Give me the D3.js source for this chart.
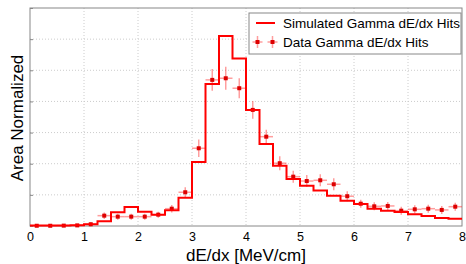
<!DOCTYPE html>
<html>
<head>
<meta charset="utf-8">
<script src="https://cdn.jsdelivr.net/npm/d3@7"></script>
<style>
  body { margin: 0; background: #fff; }
  text { font-family: "Liberation Sans", Arial, sans-serif; }
</style>
</head>
<body>
<div id="chart"></div>
<script>
// bin lower edges, width 0.25
var binEdges = d3.range(0, 8, 0.25);
var binWidth = 0.25;

// simulated histogram (area normalized)
var simValues = [0.0004, 0.0004, 0.0004, 0.0006, 0.0014, 0.0038, 0.0110, 0.0153,
  0.0115, 0.0091, 0.0126, 0.0227, 0.0514, 0.1140, 0.1526, 0.1344,
  0.0932, 0.0659, 0.0484, 0.0378, 0.0324, 0.0284, 0.0243, 0.0203,
  0.0177, 0.0139, 0.0123, 0.0112, 0.0094, 0.0080, 0.0064, 0.0059];

// data points and their errors
var dataValues = [0.0002, 0.0002, 0.0003, 0.0005, 0.0014, 0.0083, 0.0075, 0.0075,
  0.0075, 0.0091, 0.0139, 0.0271, 0.0624, 0.1173, 0.1186, 0.1106,
  0.0932, 0.0717, 0.0504, 0.0396, 0.0361, 0.0367, 0.0335, 0.0239,
  0.0179, 0.0158, 0.0161, 0.0123, 0.0134, 0.0139, 0.0129, 0.0155];
var dataErrors = [0.0003, 0.0003, 0.0003, 0.0004, 0.0016, 0.0026, 0.0024, 0.0024,
  0.0024, 0.0024, 0.0030, 0.0040, 0.0070, 0.0088, 0.0092, 0.0080,
  0.0072, 0.0056, 0.0056, 0.0048, 0.0048, 0.0048, 0.0048, 0.0040,
  0.0032, 0.0032, 0.0032, 0.0032, 0.0032, 0.0032, 0.0032, 0.0032];

var xTicks = [0, 1, 2, 3, 4, 5, 6, 7, 8];
var yTicks = [0, 0.025, 0.05, 0.075, 0.1, 0.125, 0.15, 0.175];

var fullWidth = 466, fullHeight = 264;
var margin = {top: 8, right: 4, bottom: 38, left: 30};
var width = fullWidth - margin.left - margin.right;
var height = fullHeight - margin.top - margin.bottom;

var svg = d3.select('#chart').append('svg')
  .attr('width', fullWidth)
  .attr('height', fullHeight);
var g = svg.append('g')
  .attr('transform', 'translate(' + margin.left + ',' + margin.top + ')');

var x = d3.scaleLinear().domain([0, 8]).range([0, width]);
var y = d3.scaleLinear().domain([0, 0.175]).range([height, 0]);

// grid
g.append('g').selectAll('line.vgrid')
    .data(xTicks.slice(1, -1))
  .enter().append('line')
    .attr('x1', function(d) { return x(d); })
    .attr('x2', function(d) { return x(d); })
    .attr('y1', 0).attr('y2', height)
    .attr('stroke', '#cccccc')
    .attr('stroke-dasharray', '1,2');
g.append('g').selectAll('line.hgrid')
    .data(yTicks.slice(1, -1))
  .enter().append('line')
    .attr('x1', 0).attr('x2', width)
    .attr('y1', function(d) { return y(d); })
    .attr('y2', function(d) { return y(d); })
    .attr('stroke', '#cccccc')
    .attr('stroke-dasharray', '1,2');

// x axis labels
var xAxis = d3.axisBottom(x).tickValues(xTicks).tickSize(0).tickPadding(6);
var xg = g.append('g')
  .attr('transform', 'translate(0,' + height + ')')
  .call(xAxis);
xg.select('.domain').remove();
xg.selectAll('text').style('font-size', '12.5px').attr('fill', '#000');

// y axis ticks, no labels
var yAxis = d3.axisRight(y).tickValues(yTicks).tickSize(3).tickFormat('');
var yg = g.append('g').call(yAxis);
yg.select('.domain').remove();
yg.selectAll('line').attr('stroke', '#888');

// frame
g.append('rect')
  .attr('width', width).attr('height', height)
  .attr('fill', 'none')
  .attr('stroke', '#888')
  .attr('stroke-width', 1);

// data error bars
var pts = g.append('g');
binEdges.forEach(function(b, i) {
  var cx = x(b + binWidth / 2), cy = y(dataValues[i]);
  pts.append('line')
    .attr('x1', x(b)).attr('x2', x(b + binWidth))
    .attr('y1', cy).attr('y2', cy)
    .attr('stroke', 'rgba(255,40,40,0.45)').attr('stroke-width', 1.5);
  pts.append('line')
    .attr('x1', cx).attr('x2', cx)
    .attr('y1', y(dataValues[i] - dataErrors[i]))
    .attr('y2', y(dataValues[i] + dataErrors[i]))
    .attr('stroke', 'rgba(255,40,40,0.45)').attr('stroke-width', 1.5);
});

// simulated step line
var stepPts = [];
binEdges.forEach(function(b, i) {
  stepPts.push([b, simValues[i]]);
  stepPts.push([b + binWidth, simValues[i]]);
});
g.append('path')
  .datum(stepPts)
  .attr('fill', 'none')
  .attr('stroke', '#ff0000')
  .attr('stroke-width', 2)
  .attr('d', d3.line()
    .x(function(d) { return x(d[0]); })
    .y(function(d) { return y(d[1]); }));

// data markers
pts.selectAll('rect.pt')
    .data(dataValues)
  .enter().append('rect')
    .attr('x', function(d, i) { return x(binEdges[i] + binWidth / 2) - 2; })
    .attr('y', function(d) { return y(d) - 2; })
    .attr('width', 4).attr('height', 4)
    .attr('fill', '#dd0000');

// legend
var lg = svg.append('g').attr('transform', 'translate(249,13)');
lg.append('rect')
  .attr('width', 212).attr('height', 41)
  .attr('fill', '#fff')
  .attr('stroke', '#888');
lg.append('line')
  .attr('x1', 7).attr('x2', 26).attr('y1', 10).attr('y2', 10)
  .attr('stroke', '#ff0000').attr('stroke-width', 2);
lg.append('text')
  .attr('x', 34).attr('y', 15)
  .style('font-size', '13.5px')
  .text('Simulated Gamma dE/dx Hits');
[8.5, 23.5].forEach(function(px) {
  lg.append('line')
    .attr('x1', px - 5).attr('x2', px + 5).attr('y1', 29).attr('y2', 29)
    .attr('stroke', 'rgba(255,40,40,0.45)').attr('stroke-width', 1.5);
  lg.append('line')
    .attr('x1', px).attr('x2', px).attr('y1', 23).attr('y2', 35)
    .attr('stroke', 'rgba(255,40,40,0.45)').attr('stroke-width', 1.5);
  lg.append('rect')
    .attr('x', px - 2).attr('y', 27).attr('width', 4).attr('height', 4)
    .attr('fill', '#dd0000');
});
lg.append('text')
  .attr('x', 34).attr('y', 34)
  .style('font-size', '13.5px')
  .text('Data Gamma dE/dx Hits');

// axis titles
svg.append('text')
  .attr('x', margin.left + width / 2)
  .attr('y', 261)
  .attr('text-anchor', 'middle')
  .style('font-size', '17px')
  .text('dE/dx [MeV/cm]');
svg.append('text')
  .attr('transform', 'translate(23,118) rotate(-90)')
  .attr('text-anchor', 'middle')
  .style('font-size', '17px')
  .text('Area Normalized');
</script>
</body>
</html>
